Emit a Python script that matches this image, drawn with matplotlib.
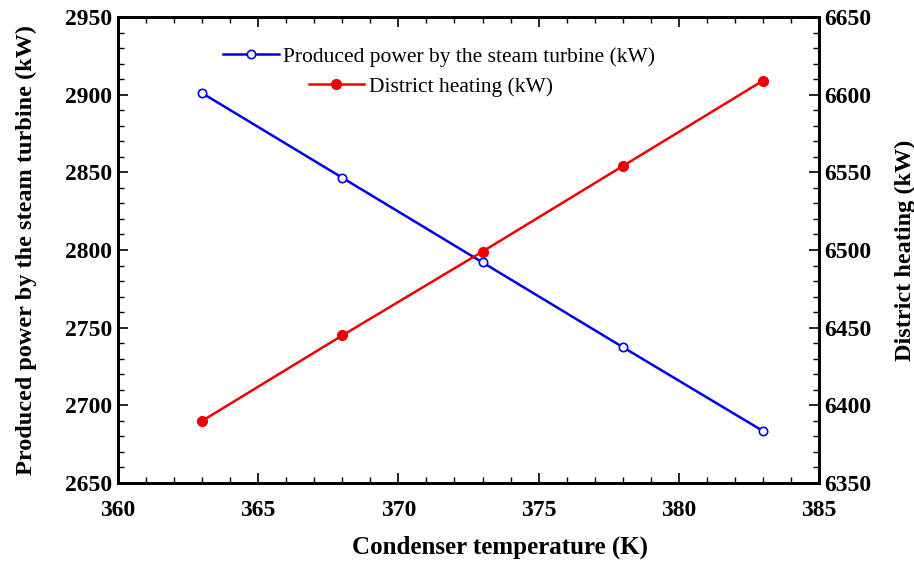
import matplotlib
matplotlib.use("Agg")
import matplotlib.pyplot as plt
from matplotlib.ticker import MultipleLocator

plt.rcParams['font.family'] = ['Liberation Serif', 'DejaVu Serif']

temp_K = [363, 368, 373, 378, 383]
power_kW = [2901, 2846.5, 2792, 2737.5, 2683.5]
heating_kW = [6390, 6445, 6499, 6554, 6609]

fig = plt.figure(figsize=(9.14, 5.64), dpi=100)
ax = fig.add_axes([118/914, 1 - 483/564, (819-118)/914, (483-17)/564])
ax2 = ax.twinx()

l1, = ax.plot(temp_K, power_kW, color="#0000ee", lw=1.8, marker='o', ms=6,
              mfc='white', mec="#0000ee", mew=1.2,
              label="Produced power by the steam turbine (kW)")
l2, = ax2.plot(temp_K, heating_kW, color="#ee0000", lw=1.8, marker='o', ms=7,
               mfc="#ee0000", mec="#ee0000",
               label="District heating (kW)")

ax.set_xlim(360, 385)
ax.set_ylim(2650, 2950)
ax2.set_ylim(6350, 6650)
ax.xaxis.set_major_locator(MultipleLocator(5))
ax.xaxis.set_minor_locator(MultipleLocator(1))
ax.yaxis.set_major_locator(MultipleLocator(50))
ax.yaxis.set_minor_locator(MultipleLocator(10))
ax2.yaxis.set_major_locator(MultipleLocator(50))
ax2.yaxis.set_minor_locator(MultipleLocator(10))

ax.tick_params(axis='x', which='both', direction='in', top=True)
ax.tick_params(axis='y', which='both', direction='in', right=False)
ax2.tick_params(which='both', direction='in')
for a in (ax, ax2):
    a.tick_params(which='major', length=7, width=1.2, labelsize=17, pad=4)
    a.tick_params(which='minor', length=4, width=1.0)
    for lab in a.get_xticklabels() + a.get_yticklabels():
        lab.set_fontweight('bold')
    for s in a.spines.values():
        s.set_linewidth(2)
ax.tick_params(axis='x', pad=12)

ax.set_xlabel("Condenser temperature (K)", fontsize=18, fontweight='bold')
ax.set_ylabel("Produced power by the steam turbine (kW)", fontsize=17.5, fontweight='bold')
ax2.set_ylabel("District heating (kW)", fontsize=17.5, fontweight='bold')
ax.xaxis.set_label_coords(0.545, -0.139)
ax.xaxis.label.set_va('center')
ax.yaxis.set_label_coords(-0.13, 0.5)
ax.yaxis.label.set_va('center')
ax2.yaxis.set_label_coords(1.123, 0.5)
ax2.yaxis.label.set_va('center')

leg1 = ax.legend(handles=[l1], loc='center', bbox_to_anchor=(0.458, 0.915),
                 frameon=False, fontsize=15.5, handlelength=2.6, handletextpad=0.2)
ax.add_artist(leg1)
leg2 = ax.legend(handles=[l2], loc='center', bbox_to_anchor=(0.446, 0.85),
                 frameon=False, fontsize=15.5, handlelength=2.6, handletextpad=0.2)

fig.savefig("out.png", dpi=100)
